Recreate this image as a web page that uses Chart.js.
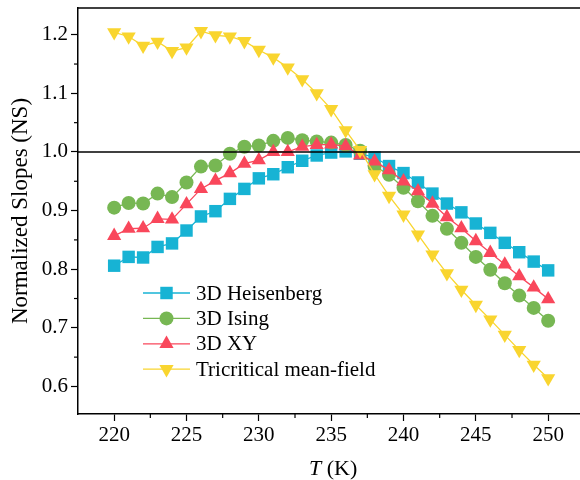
<!DOCTYPE html>
<html><head><meta charset="utf-8">
<script src="https://cdn.jsdelivr.net/npm/chart.js@4/dist/chart.umd.min.js"></script>
<style>html,body{margin:0;padding:0;background:#fff;overflow:hidden}</style>
</head><body>
<canvas id="c" width="580" height="480" style="display:block;width:580px;height:480px"></canvas>
<script>
// ---- data ----
const temperatures = [220,221,222,223,224,225,226,227,228,229,230,231,232,233,234,235,236,237,238,239,240,241,242,243,244,245,246,247,248,249,250];
const heisenberg = [0.806,0.821,0.820,0.838,0.844,0.866,0.890,0.899,0.920,0.937,0.955,0.962,0.974,0.985,0.994,0.999,1.001,0.997,0.991,0.976,0.964,0.948,0.929,0.912,0.897,0.878,0.862,0.845,0.829,0.813,0.798];
const ising = [0.905,0.913,0.912,0.929,0.923,0.948,0.975,0.977,0.997,1.009,1.011,1.019,1.024,1.020,1.018,1.016,1.012,1.002,0.976,0.961,0.939,0.916,0.891,0.869,0.845,0.821,0.799,0.776,0.755,0.734,0.712];
const xy = [0.857,0.869,0.870,0.886,0.885,0.911,0.937,0.951,0.964,0.980,0.986,1.000,1.000,1.009,1.012,1.013,1.010,0.994,0.984,0.969,0.950,0.933,0.912,0.889,0.870,0.848,0.828,0.808,0.788,0.769,0.749];
const tricritical = [1.204,1.197,1.181,1.188,1.172,1.178,1.206,1.199,1.197,1.189,1.174,1.161,1.144,1.124,1.100,1.073,1.037,1.003,0.962,0.925,0.893,0.859,0.825,0.793,0.765,0.739,0.714,0.688,0.662,0.637,0.614];
const seriesNames = ['3D Heisenberg','3D Ising','3D XY','Tricritical mean-field'];
const xTitleVar = 'T';
const xTitleUnit = ' (K)';
const xTickStep = 5;
const yTickStep = 0.1;
const referenceValue = 1.0;

const FONT = "'Liberation Serif','Times New Roman',serif";
const colors = ['#17B3D4','#77B753','#F9475B','#F9D52F'];
const styles = [
  {pointStyle:'rect', radius:8.8, rotation:0},
  {pointStyle:'circle', radius:7, rotation:0},
  {pointStyle:'triangle', radius:8.2, rotation:0},
  {pointStyle:'triangle', radius:8.2, rotation:180}
];
const values = [heisenberg, ising, xy, tricritical];
const drawOrder = [3,2,1,0];

const datasets = values.map((arr,i)=>({
  label: seriesNames[i],
  data: arr.map((v,k)=>({x: temperatures[k], y: v})),
  borderColor: colors[i],
  backgroundColor: colors[i],
  pointBackgroundColor: colors[i],
  pointBorderColor: colors[i],
  pointBorderWidth: 0,
  borderWidth: 1.3,
  pointStyle: styles[i].pointStyle,
  pointRadius: styles[i].radius,
  pointRotation: styles[i].rotation,
  tension: 0,
  order: drawOrder[i]
}));

const framePlugin = {
  id: 'frame',
  afterDatasetsDraw(chart){
    const {ctx, chartArea:a, scales:{x, y}} = chart;
    ctx.save();
    ctx.strokeStyle = '#000';
    ctx.lineWidth = 1.5;
    const yr = y.getPixelForValue(referenceValue);
    ctx.beginPath(); ctx.moveTo(a.left, yr); ctx.lineTo(a.right, yr); ctx.stroke();
    ctx.beginPath(); ctx.moveTo(a.left - 0.75, a.top); ctx.lineTo(a.right, a.top); ctx.stroke();
    ctx.lineWidth = 1.2;
    for (let v = 0.65; v < y.max; v += yTickStep) {
      const p = y.getPixelForValue(v);
      if (p < a.top || p > a.bottom) continue;
      ctx.beginPath(); ctx.moveTo(a.left, p); ctx.lineTo(a.left - 4, p); ctx.stroke();
    }
    for (let v = 222.5; v < x.max; v += xTickStep) {
      const p = x.getPixelForValue(v);
      if (p < a.left || p > a.right) continue;
      ctx.beginPath(); ctx.moveTo(p, a.bottom); ctx.lineTo(p, a.bottom + 4); ctx.stroke();
    }
    ctx.fillStyle = '#000';
    ctx.textBaseline = 'alphabetic';
    ctx.font = 'italic 22px ' + FONT;
    const w1 = ctx.measureText(xTitleVar).width;
    ctx.font = '22px ' + FONT;
    const w2 = ctx.measureText(xTitleUnit).width;
    const cx = x.getPixelForValue(235) + 2;
    const base = 475;
    const sx = cx - (w1 + w2) / 2;
    ctx.font = 'italic 22px ' + FONT;
    ctx.fillText(xTitleVar, sx, base);
    ctx.font = '22px ' + FONT;
    ctx.fillText(xTitleUnit, sx + w1, base);
    ctx.restore();
  }
};

const legendPlugin = {
  id: 'customLegend',
  afterDraw(chart, args, opts){
    const ctx = chart.ctx;
    ctx.save();
    ctx.font = '21px ' + FONT;
    ctx.textBaseline = 'middle';
    chart.data.datasets.forEach((ds, i) => {
      const cy = opts.top + i * opts.rowGap;
      ctx.strokeStyle = ds.borderColor;
      ctx.lineWidth = 1.3;
      ctx.beginPath(); ctx.moveTo(opts.left, cy); ctx.lineTo(opts.left + opts.lineLen, cy); ctx.stroke();
      ctx.fillStyle = ds.backgroundColor;
      Chart.helpers.drawPoint(ctx, {pointStyle: ds.pointStyle, radius: ds.pointRadius, rotation: ds.pointRotation, borderWidth: 0}, opts.left + opts.lineLen/2, cy);
      ctx.fillStyle = '#000';
      ctx.fillText(ds.label, opts.left + opts.lineLen + 6, cy + 1);
    });
    ctx.restore();
  }
};

new Chart(document.getElementById('c'), {
  type: 'line',
  data: { datasets },
  options: {
    responsive: false,
    animation: false,
    devicePixelRatio: 1,
    layout: { autoPadding: false, padding: { top: 8, right: 0, left: 0, bottom: 0 } },
    plugins: {
      legend: { display: false },
      tooltip: { enabled: false },
      customLegend: { left: 143, top: 293, rowGap: 25.4, lineLen: 47 }
    },
    scales: {
      x: {
        type: 'linear',
        min: 217.5, max: 252.2,
        ticks: { stepSize: xTickStep, includeBounds: false, color: '#000', font: { family: FONT, size: 21 }, padding: 2, maxRotation: 0 },
        grid: { drawOnChartArea: false, drawTicks: true, tickLength: 7, tickColor: '#000', tickWidth: 1.2 },
        border: { display: true, color: '#000', width: 1.5 },
        title: { display: false },
        afterFit(s){ s.height = 66; s.paddingLeft = 0; s.paddingRight = 0; }
      },
      y: {
        type: 'linear',
        min: 0.553, max: 1.2456,
        ticks: { stepSize: yTickStep, includeBounds: false, color: '#000', font: { family: FONT, size: 21 }, padding: 3, callback: v => v.toFixed(1) },
        grid: { drawOnChartArea: false, drawTicks: true, tickLength: 7, tickColor: '#000', tickWidth: 1.2 },
        border: { display: true, color: '#000', width: 1.5 },
        title: { display: true, text: 'Normalized Slopes (NS)', color: '#000', font: { family: FONT, size: 23 }, padding: { top: 7, bottom: 0 } },
        afterFit(s){ s.width = 78; s.paddingTop = 0; s.paddingBottom = 0; }
      }
    }
  },
  plugins: [framePlugin, legendPlugin]
});
</script>
</body></html>
